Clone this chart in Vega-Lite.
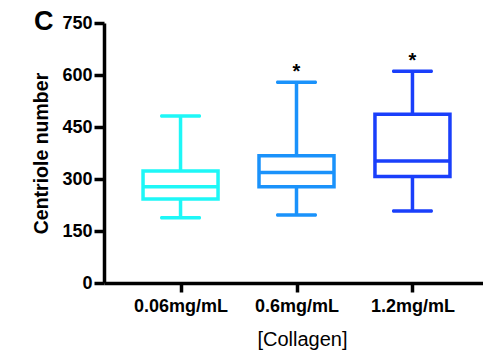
{
  "$schema": "https://vega.github.io/schema/vega-lite/v6.json",
  "autosize": "none",
  "width": 385,
  "height": 260,
  "padding": {"left": 104, "top": 23, "right": 0, "bottom": 72},
  "background": "white",
  "config": {
    "view": {"stroke": null},
    "font": "Liberation Sans",
    "axis": {"domainColor": "black", "domainWidth": 3.5, "tickColor": "black", "tickWidth": 3.5, "grid": false, "labelColor": "black", "titleColor": "black"}
  },
  "title": {"text": "C", "anchor": "start", "frame": "bounds", "fontSize": 27, "fontWeight": "bold", "font": "Liberation Sans", "color": "black", "dx": 2, "offset": -22},
  "data": {"values": [
    {"group": "0.06mg/mL", "wlo": 188, "q1": 242, "median": 278, "q3": 323, "whi": 482, "sig": ""},
    {"group": "0.6mg/mL", "wlo": 196, "q1": 278, "median": 319, "q3": 367, "whi": 579, "sig": "*"},
    {"group": "1.2mg/mL", "wlo": 208, "q1": 307, "median": 352, "q3": 487, "whi": 611, "sig": "*"}
  ]},
  "encoding": {
    "x": {"field": "group", "type": "nominal", "sort": null,
      "scale": {"type": "point", "padding": 0.66},
      "axis": {"title": "[Collagen]", "labelAngle": 0, "labelFontSize": 18, "labelFontWeight": "bold", "labelPadding": 5, "tickSize": 9, "titleFontSize": 20, "titleFontWeight": "normal", "titlePadding": 14, "titleX": 198}},
    "color": {"field": "group", "type": "nominal", "sort": null, "legend": null,
      "scale": {"range": ["#1ef7f7", "#1a92fb", "#1a3ffb"]}}
  },
  "layer": [
    {"mark": {"type": "rule", "strokeWidth": 3.5},
     "encoding": {
       "y": {"field": "wlo", "type": "quantitative", "scale": {"domain": [0, 750], "nice": false},
         "axis": {"title": "Centriole number", "values": [0, 150, 300, 450, 600, 750], "labelFontSize": 18, "labelFontWeight": "bold", "labelPadding": 2, "tickSize": 10, "titleFontSize": 19.5, "titleFontWeight": "bold", "titlePadding": 10}},
       "y2": {"field": "whi"},
       "stroke": {"field": "group", "type": "nominal", "sort": null, "legend": null, "scale": {"range": ["#1ef7f7", "#1a92fb", "#1a3ffb"]}}
     }},
    {"mark": {"type": "bar", "size": 75, "fill": "white", "strokeWidth": 3.5},
     "encoding": {
       "y": {"field": "q1", "type": "quantitative"},
       "y2": {"field": "q3"},
       "stroke": {"field": "group", "type": "nominal", "sort": null, "legend": null}
     }},
    {"mark": {"type": "tick", "size": 77, "thickness": 3.5, "orient": "horizontal", "opacity": 1},
     "encoding": {"y": {"field": "median", "type": "quantitative"}}},
    {"mark": {"type": "tick", "size": 41, "thickness": 3.5, "orient": "horizontal", "cornerRadius": 1.5, "opacity": 1},
     "encoding": {"y": {"field": "whi", "type": "quantitative"}}},
    {"mark": {"type": "tick", "size": 41, "thickness": 3.5, "orient": "horizontal", "cornerRadius": 1.5, "opacity": 1},
     "encoding": {"y": {"field": "wlo", "type": "quantitative"}}},
    {"mark": {"type": "text", "fontSize": 20, "fontWeight": "bold", "baseline": "bottom", "dy": 0},
     "encoding": {"y": {"field": "whi", "type": "quantitative"}, "text": {"field": "sig"}, "color": {"value": "black"}}}
  ]
}
